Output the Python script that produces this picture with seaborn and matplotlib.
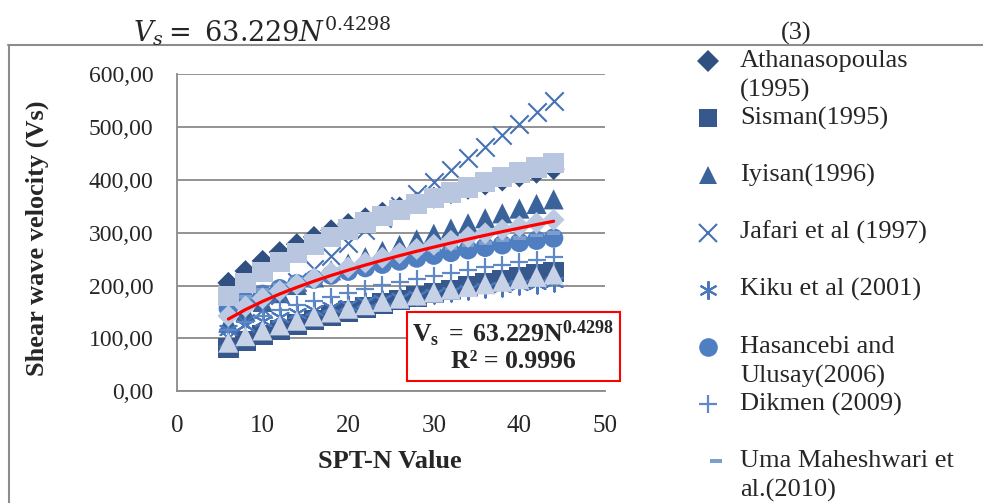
import pandas as pd
import seaborn as sns
import matplotlib.pyplot as plt
from matplotlib.lines import Line2D
from matplotlib.patches import Rectangle
from matplotlib.ticker import FuncFormatter

sns.set_style("whitegrid", {"grid.color": "#8a8a8a", "axes.edgecolor": "#8a8a8a"})
plt.rcParams["font.family"] = ["Liberation Serif", "DejaVu Serif"]
plt.rcParams["mathtext.fontset"] = "custom"
plt.rcParams["mathtext.rm"] = "Liberation Serif"
plt.rcParams["mathtext.it"] = "Liberation Serif:italic"
plt.rcParams["mathtext.bf"] = "Liberation Serif:bold"

# SPT-N values
spt_n = [6, 8, 10, 12, 14, 16, 18, 20, 22, 24, 26, 28, 30, 32, 34, 36, 38, 40, 42, 44]

# shear wave velocity
athanasopoulas = [205.1, 227.4, 246.5, 263.2, 278.2, 291.9, 304.5, 316.3, 327.3, 337.8,
                  347.7, 357.1, 366.1, 374.7, 383.0, 391.0, 398.6, 406.1, 413.3, 420.2]
sisman = [81.8, 94.7, 106.1, 116.5, 126.0, 134.9, 143.2, 151.1, 158.7, 165.9,
          172.8, 179.4, 185.9, 192.1, 198.1, 204.0, 209.7, 215.2, 220.7, 226.0]
iyisan = [129.8, 150.6, 169.0, 185.6, 201.0, 215.4, 228.8, 241.6, 253.8, 265.5,
          276.7, 287.4, 297.9, 307.9, 317.7, 327.2, 336.5, 345.5, 354.3, 362.9]
jafari = [100.9, 128.8, 155.7, 181.9, 207.3, 232.2, 256.7, 280.7, 304.4, 327.8,
          350.9, 373.7, 396.3, 418.6, 440.7, 462.7, 484.4, 506.0, 527.4, 548.7]
kiku = [115.3, 125.3, 133.8, 141.1, 147.6, 153.5, 158.8, 163.8, 168.4, 172.7,
        176.8, 180.7, 184.4, 187.9, 191.3, 194.5, 197.6, 200.6, 203.4, 206.2]
hasancebi = [156.6, 171.1, 183.3, 193.9, 203.4, 212.0, 219.8, 227.1, 233.9, 240.3,
             246.3, 252.0, 257.4, 262.6, 267.6, 272.3, 277.0, 281.4, 285.6, 289.8]
dikmen = [116.7, 130.5, 142.4, 152.9, 162.3, 171.0, 179.1, 186.5, 193.6, 200.3,
          206.7, 212.7, 218.5, 224.1, 229.5, 234.6, 239.6, 244.5, 249.2, 253.7]
uma = [164.0, 178.8, 191.3, 202.1, 211.7, 220.4, 228.3, 235.6, 242.5, 248.9,
       255.0, 260.8, 266.2, 271.5, 276.4, 281.2, 285.9, 290.3, 294.6, 298.7]
series_9 = [180.7, 204.9, 225.9, 244.7, 261.7, 277.4, 292.1, 305.9, 318.9, 331.2,
            343.0, 354.3, 365.1, 375.6, 385.7, 395.4, 404.9, 414.0, 423.0, 431.7]
series_10 = [142.5, 160.5, 176.0, 189.8, 202.2, 213.7, 224.4, 234.3, 243.7, 252.7,
             261.2, 269.3, 277.1, 284.5, 291.8, 298.7, 305.4, 312.0, 318.4, 324.5]
series_11 = [92.0, 104.4, 115.1, 124.7, 133.5, 141.6, 149.1, 156.2, 162.9, 169.2,
             175.3, 181.1, 186.7, 192.1, 197.3, 202.3, 207.2, 211.9, 216.5, 220.9]
# power trendline Vs = 63.229 N^0.4298
trend = [136.6, 154.5, 170.1, 184.0, 196.6, 208.2, 219.0, 229.1, 238.7, 247.8,
         256.5, 264.8, 272.7, 280.4, 287.8, 295.0, 301.9, 308.6, 315.2, 321.6]

labels = ["Athanasopoulas\n(1995)", "Sisman(1995)", "Iyisan(1996)", "Jafari et al (1997)",
          "Kiku et al (2001)", "Hasancebi and\nUlusay(2006)", "Dikmen (2009)",
          "Uma Maheshwari et\nal.(2010)", "Series 9", "Series 10", "Series 11"]
values = [athanasopoulas, sisman, iyisan, jafari, kiku, hasancebi, dikmen, uma,
          series_9, series_10, series_11]

dash = [(-1, -0.3), (1, -0.3), (1, 0.3), (-1, 0.3)]
# marker, scatter size, colour, line width (0 = filled)
styles = [
    ("D", 125, "#2f5081", 0),
    ("s", 215, "#36588c", 0),
    ("^", 210, "#3a629b", 0),
    ("x", 175, "#4672b5", 1.5),
    ((6, 2, 0), 175, "#4a78bc", 1.5),
    ("o", 195, "#4f7fc0", 0),
    ("+", 180, "#5e88c6", 1.6),
    (dash, 85, "#7d9dcf", 0),
    ("s", 215, "#b8c6df", 0),
    ("D", 125, "#bcc9e2", 0),
    ("^", 210, "#c8d2e6", 0),
]

df = pd.DataFrame({
    "N": spt_n * len(values),
    "Vs": [v for vals in values for v in vals],
    "study": [lab for lab in labels for _ in spt_n],
})
trend_df = pd.DataFrame({"N": spt_n, "Vs": trend})

fig = plt.figure(figsize=(9.83, 5.03), dpi=100)
ax = fig.add_axes([177 / 983, 1 - 391.3 / 503, 428 / 983, 317.3 / 503])

for lab, (m, s, c, lw) in zip(labels, styles):
    sub = df[df["study"] == lab]
    if lw:
        sns.scatterplot(data=sub, x="N", y="Vs", marker=m, s=s, color=c,
                        linewidth=lw, ax=ax, legend=False)
    else:
        sns.scatterplot(data=sub, x="N", y="Vs", marker=m, s=s, color=c,
                        linewidth=0, edgecolor="none", ax=ax, legend=False)

sns.lineplot(data=trend_df, x="N", y="Vs", color="#ff0000", linewidth=2.3, ax=ax)

ax.set_xlim(0, 50)
ax.set_ylim(0, 600)
ax.set_xticks(range(0, 51, 10))
ax.set_yticks(range(0, 601, 100))
ax.yaxis.set_major_formatter(FuncFormatter(lambda v, p: f"{v:.2f}".replace(".", ",")))
ax.grid(axis="x", visible=False)
ax.grid(axis="y", color="#8a8a8a", linewidth=1.3)
for side in ["top", "right"]:
    ax.spines[side].set_visible(False)
for side in ["left", "bottom"]:
    ax.spines[side].set_color("#8a8a8a")
    ax.spines[side].set_linewidth(1.3)
ax.tick_params(axis="x", length=0, pad=17, labelsize=18)
ax.tick_params(axis="y", length=0, pad=17, labelsize=17)
ax.set_xlabel("SPT-N Value", fontsize=19, fontweight="bold")
ax.set_ylabel("Shear wave velocity (Vs)", fontsize=19, fontweight="bold")
ax.xaxis.set_label_coords(0.498, -0.185)
ax.yaxis.set_label_coords(-0.30, 0.483)

# overlay in pixel coordinates for frame, equation, annotation box and legend
lax = fig.add_axes([0, 0, 1, 1])
lax.set_xlim(0, 983)
lax.set_ylim(503, 0)
lax.set_axis_off()

lax.plot([8, 983], [45, 45], color="#8c8c8c", linewidth=1.5)
lax.plot([9, 9], [45, 503], color="#8c8c8c", linewidth=1.5)
lax.text(133, 31, r"$V_s=\ 63.229N^{0.4298}$", fontsize=19.5, va="center", ha="left",
         math_fontfamily="dejavuserif")
lax.text(796, 33, "(3)", fontsize=19, va="center", ha="center")

lax.add_patch(Rectangle((407, 312), 213, 69, facecolor="white", edgecolor="#ff0000",
                        linewidth=1.5))
lax.text(513, 334, r"$\mathbf{V_s\ =\ 63.229N^{0.4298}}$", fontsize=18.5,
         ha="center", va="center")
lax.text(513, 362, "R² = 0.9996", fontsize=18.5, fontweight="bold",
         ha="center", va="center")

leg_y = 61
for lab, (m, s, c, lw) in zip(labels[:8], styles[:8]):
    mx = 716 if m is dash else 708
    ms = min(s, 180) ** 0.5
    if lw:
        lax.add_line(Line2D([mx], [leg_y], marker=m, markersize=ms, color=c,
                            markeredgewidth=lw, linestyle="none"))
    else:
        lax.add_line(Line2D([mx], [leg_y], marker=m, markersize=ms, color=c,
                            markeredgewidth=0, linestyle="none"))
    for i, line in enumerate(lab.split("\n")):
        lax.text(740, leg_y + i * 29.5, line, fontsize=19, va="center", ha="left")
    leg_y += 57.2

fig.savefig("out.png", dpi=100)
